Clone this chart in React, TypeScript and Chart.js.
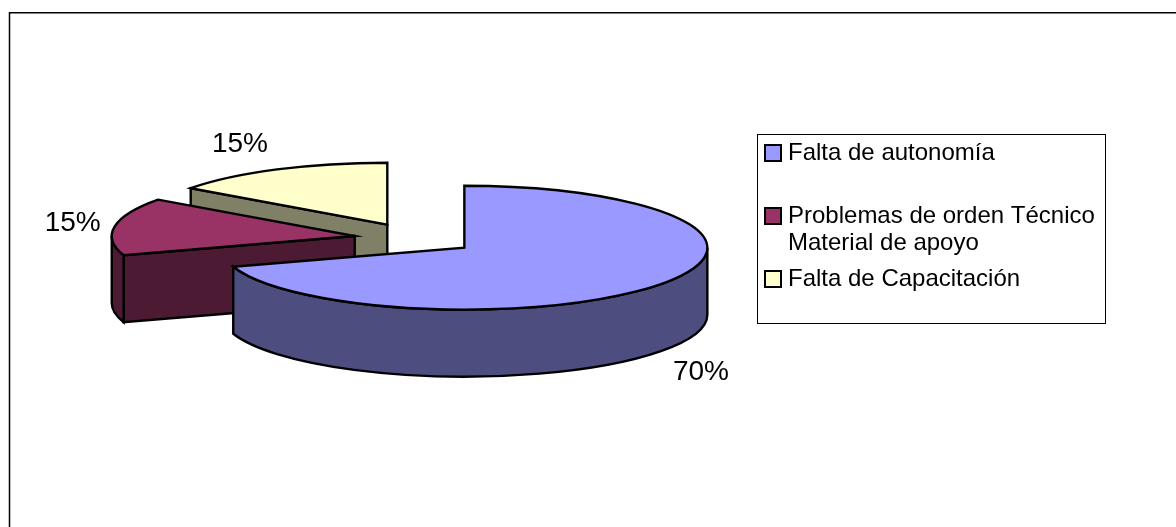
import React, { useEffect, useRef } from "react";
import { Chart, PieController, registerables } from "chart.js";

const categories: string[][] = [
  ["Falta de autonomía", ""],
  ["Problemas de orden Técnico", "Material de apoyo"],
  ["Falta de Capacitación"],
];
const shares = [70, 15, 15];
const topColors = ["#9999FF", "#993366", "#FFFFCC"];
const sideColors = ["#4D4D80", "#4D1A33", "#808066"];

const FONT = '"Liberation Sans", Arial, sans-serif';
const PIE_RADIUS = 243;
const EXPLODE = 61;
const TILT = 0.255;
const DEPTH = 67;

// Where a slice's top face sits once it has been pulled away from the pie's centre.
function sliceGeometry(arc: any) {
  const mid = (arc.startAngle + arc.endAngle) / 2;
  return {
    cx: arc.x + Math.cos(mid) * EXPLODE,
    cy: arc.y + Math.sin(mid) * EXPLODE * TILT,
    rx: arc.outerRadius,
    ry: arc.outerRadius * TILT,
    mid,
  };
}

// Pie controller that renders its arcs as a tilted, extruded, exploded pie.
class ExplodedPie3D extends PieController {
  static id = "explodedPie3D";

  draw() {
    const ctx = this.chart.ctx;
    const arcs = this.getMeta().data as any[];
    const side = (this.getDataset() as any).sideColors as string[];
    ctx.save();
    ctx.lineWidth = 2.4;
    ctx.lineJoin = "miter";
    ctx.strokeStyle = "#000";

    for (let i = arcs.length - 1; i >= 0; i--) {
      const arc = arcs[i];
      const { cx, cy, rx, ry } = sliceGeometry(arc);
      const a0 = arc.startAngle;
      const a1 = arc.endAngle;
      const rimAt = (a: number) => [cx + Math.cos(a) * rx, cy + Math.sin(a) * ry];

      ctx.fillStyle = side[i];
      // Flat cut faces that turn towards the viewer.
      for (const [angle, normal] of [
        [a0, a0 - Math.PI / 2],
        [a1, a1 + Math.PI / 2],
      ]) {
        if (Math.sin(normal) <= 0.001) continue;
        const [px, py] = rimAt(angle);
        ctx.beginPath();
        ctx.moveTo(cx, cy);
        ctx.lineTo(px, py);
        ctx.lineTo(px, py + DEPTH);
        ctx.lineTo(cx, cy + DEPTH);
        ctx.closePath();
        ctx.fill();
        ctx.stroke();
      }
      // Curved outer wall, front half of the rim only.
      const lo = Math.max(a0, 0);
      const hi = Math.min(a1, Math.PI);
      if (hi > lo) {
        ctx.beginPath();
        ctx.ellipse(cx, cy, rx, ry, 0, lo, hi);
        ctx.ellipse(cx, cy + DEPTH, rx, ry, 0, hi, lo, true);
        ctx.closePath();
        ctx.fill();
        ctx.stroke();
      }
      // Top face.
      ctx.fillStyle = arc.options.backgroundColor;
      ctx.beginPath();
      ctx.moveTo(cx, cy);
      ctx.ellipse(cx, cy, rx, ry, 0, a0, a1);
      ctx.closePath();
      ctx.fill();
      ctx.stroke();
    }
    ctx.restore();
  }
}

// Top and left rules of the chart's surround.
const surround = {
  id: "surround",
  beforeDraw(chart: any) {
    const { ctx, width, height } = chart;
    ctx.save();
    ctx.strokeStyle = "#000";
    ctx.lineWidth = 1.5;
    ctx.beginPath();
    ctx.moveTo(9.5, height);
    ctx.lineTo(9.5, 12.8);
    ctx.lineTo(width, 12.8);
    ctx.stroke();
    ctx.restore();
  },
};

// Percentage beside each slice, nudged outwards from its rim.
const percentLabels = {
  id: "percentLabels",
  afterDatasetsDraw(chart: any, _args: any, opts: any) {
    const { ctx } = chart;
    const arcs = chart.getDatasetMeta(0).data;
    const values = chart.data.datasets[0].data as number[];
    const total = values.reduce((a, b) => a + b, 0);
    ctx.save();
    ctx.font = `${opts.size}px ${FONT}`;
    ctx.fillStyle = "#000";
    ctx.textAlign = "center";
    ctx.textBaseline = "middle";
    arcs.forEach((arc: any, i: number) => {
      const { cx, cy, rx, ry, mid } = sliceGeometry(arc);
      const [nx, ny] = opts.nudges[i];
      const text = `${Math.round((values[i] / total) * 100)}%`;
      ctx.fillText(text, cx + Math.cos(mid) * rx + nx, cy + Math.sin(mid) * ry + ny);
    });
    ctx.restore();
  },
};

// Boxed key on the right: a swatch and one or two lines of text per category.
const boxedKey = {
  id: "boxedKey",
  afterDraw(chart: any, _args: any, opts: any) {
    const { ctx } = chart;
    const { left, top, width, height, size, lineHeight, rowGap, swatch } = opts;
    ctx.save();
    ctx.strokeStyle = "#000";
    ctx.lineWidth = 1;
    ctx.strokeRect(left + 0.5, top + 0.5, width, height);
    ctx.font = `${size}px ${FONT}`;
    ctx.textBaseline = "alphabetic";
    ctx.textAlign = "left";
    let baseline = top + 26;
    chart.data.labels.forEach((lines: string[], i: number) => {
      ctx.fillStyle = chart.data.datasets[0].backgroundColor[i];
      ctx.lineWidth = 2;
      ctx.fillRect(left + 8, baseline - swatch + 1, swatch, swatch);
      ctx.strokeRect(left + 8, baseline - swatch + 1, swatch, swatch);
      ctx.fillStyle = "#000";
      lines.forEach((line, n) => {
        if (line) ctx.fillText(line, left + 31, baseline + n * lineHeight);
      });
      baseline += (lines.length - 1) * lineHeight + rowGap;
    });
    ctx.restore();
  },
};

Chart.register(...registerables, ExplodedPie3D);

export default function App() {
  const canvasRef = useRef<HTMLCanvasElement>(null);

  useEffect(() => {
    const chart = new Chart(canvasRef.current as HTMLCanvasElement, {
      type: "explodedPie3D" as any,
      data: {
        labels: categories as any,
        datasets: [
          {
            data: shares,
            backgroundColor: topColors,
            sideColors,
            radius: PIE_RADIUS,
          } as any,
        ],
      },
      options: {
        responsive: false,
        animation: false,
        layout: { padding: { left: 0, top: 0, right: 346, bottom: 50 } },
        plugins: {
          legend: { display: false },
          tooltip: { enabled: false },
          percentLabels: {
            size: 28,
            nudges: [
              [40, 88],
              [-42, -3],
              [-37, -25],
            ],
          },
          boxedKey: {
            left: 757,
            top: 134,
            width: 348,
            height: 189,
            size: 24,
            lineHeight: 27,
            rowGap: 36,
            swatch: 16,
          },
        } as any,
      },
      plugins: [surround, percentLabels, boxedKey],
    });
    return () => chart.destroy();
  }, []);

  return (
    <div style={{ position: "absolute", left: 0, top: 0, width: 1176, height: 527, background: "#fff" }}>
      <canvas ref={canvasRef} width={1176} height={527} style={{ display: "block" }} />
    </div>
  );
}
